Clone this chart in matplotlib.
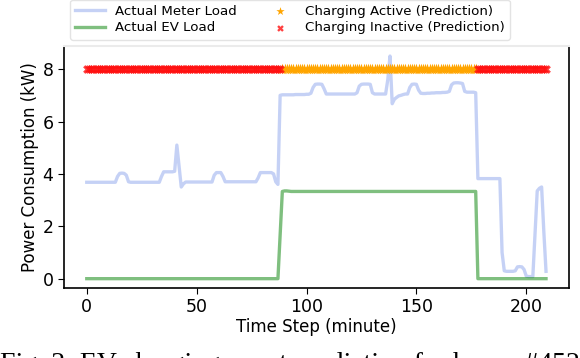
import numpy as np
import matplotlib
matplotlib.use("Agg")
import matplotlib.pyplot as plt

# ---- data ----
time_steps = list(range(210))

meter_load = (
    [3.68] * 14 +                                   # 0-13
    [3.9, 4.02, 4.03, 4.02, 3.95, 3.7] +            # 14-19
    [3.68] * 14 +                                   # 20-33
    [3.9, 4.08, 4.08, 4.08, 4.08, 4.08, 4.1] +      # 34-40
    [5.1, 4.3, 3.5, 3.62] +                         # 41-44
    [3.69] * 13 +                                   # 45-57
    [3.95, 4.05, 4.05, 4.05, 3.9] +                 # 58-62
    [3.7] * 15 +                                    # 63-77
    [3.85, 4.05, 4.05, 4.05, 4.05, 4.05, 4.05, 4.0, 3.7, 3.6] +  # 78-87
    [7.0, 7.02, 7.02, 7.02, 7.02, 7.02, 7.02, 7.03, 7.03, 7.03, 7.03, 7.03, 7.04, 7.04] +  # 88-101
    [7.08, 7.3, 7.42, 7.43, 7.43, 7.42, 7.25] +     # 102-108
    [7.05] * 14 +                                   # 109-122
    [7.1, 7.35, 7.42, 7.43, 7.43, 7.43, 7.42, 7.1] +  # 123-130
    [7.05] * 6 +                                    # 131-136
    [7.6, 8.5, 6.68, 6.85, 6.92, 6.98, 7.0, 7.03, 7.05, 7.05] +  # 137-146
    [7.3, 7.42, 7.43, 7.42, 7.2, 7.08] +            # 147-152
    [7.07, 7.07, 7.08, 7.08, 7.09, 7.09, 7.1, 7.1, 7.1, 7.11, 7.11, 7.12] +  # 153-164
    [7.15, 7.4, 7.47, 7.48, 7.48, 7.47, 7.45, 7.15] +  # 165-172
    [7.12, 7.12, 7.12, 7.12, 7.1] +                 # 173-177
    [3.82] * 11 +                                   # 178-188
    [1.0, 0.3, 0.28, 0.28, 0.28, 0.28, 0.3] +       # 189-195
    [0.45, 0.46, 0.45, 0.35, 0.1] +                 # 196-200
    [0.08, 0.08, 0.08, 1.7, 3.35, 3.45, 3.5, 1.8, 0.28]  # 201-209
)

ev_load = (
    [0.0] * 88 +                                    # 0-87
    [1.7, 3.33, 3.35, 3.35, 3.34] +                 # 88-92
    [3.33] * 85 +                                   # 93-177
    [0.0] * 32                                      # 178-209
)

# predicted charging state: 1 = active, 0 = inactive
predicted_state = [0] * 89 + [1] * 89 + [0] * 32

t = np.array(time_steps)
meter = np.array(meter_load)
ev = np.array(ev_load)
state = np.array(predicted_state)

fig = plt.figure(figsize=(5.8, 3.58), dpi=100)
ax = fig.add_axes([0.110, 0.196, 0.871, 0.676])

ax.plot(t, meter, color="royalblue", alpha=0.3, linewidth=2.4, label="Actual Meter Load")
ax.plot(t, ev, color="green", alpha=0.5, linewidth=2.4, label="Actual EV Load")
active = state == 1
ax.scatter(t[active], np.full(active.sum(), 8.0), marker="*", color="orange",
           s=70, label="Charging Active (Prediction)", zorder=3, linewidths=0)
ax.scatter(t[~active], np.full((~active).sum(), 8.0), marker="X", color="#ff1010",
           alpha=0.8, s=40, label="Charging Inactive (Prediction)", zorder=3, linewidths=0)

ax.set_xlim(-10.45, 219.45)
ax.set_ylim(-0.35, 8.89)
ax.set_xticks([0, 50, 100, 150, 200])
ax.set_yticks([0, 2, 4, 6, 8])
ax.tick_params(labelsize=12.5, length=4, width=0.8)
ax.set_xlabel("Time Step (minute)", fontsize=12, labelpad=1)
ax.set_ylabel("Power Consumption (kW)", fontsize=12, labelpad=2)
ax.spines["top"].set_color("#ebebeb")
ax.spines["top"].set_linewidth(1.5)
ax.spines["right"].set_linewidth(1.2)
ax.spines["left"].set_linewidth(1.2)
ax.spines["bottom"].set_linewidth(1.2)

fig.legend(loc="upper center", bbox_to_anchor=(0.5, 1.02), ncol=2, fontsize=9.6,
           frameon=True, edgecolor="#dddddd", columnspacing=2.1, handlelength=2.2,
           handletextpad=0.8, labelspacing=0.25, borderpad=0.4, markerscale=0.75)

fig.text(0.0, 0.018, "Fig. 2: EV charging event prediction for house #4526",
         family="Liberation Serif", fontsize=20, va="top", ha="left")

fig.savefig("out.png", dpi=100)
